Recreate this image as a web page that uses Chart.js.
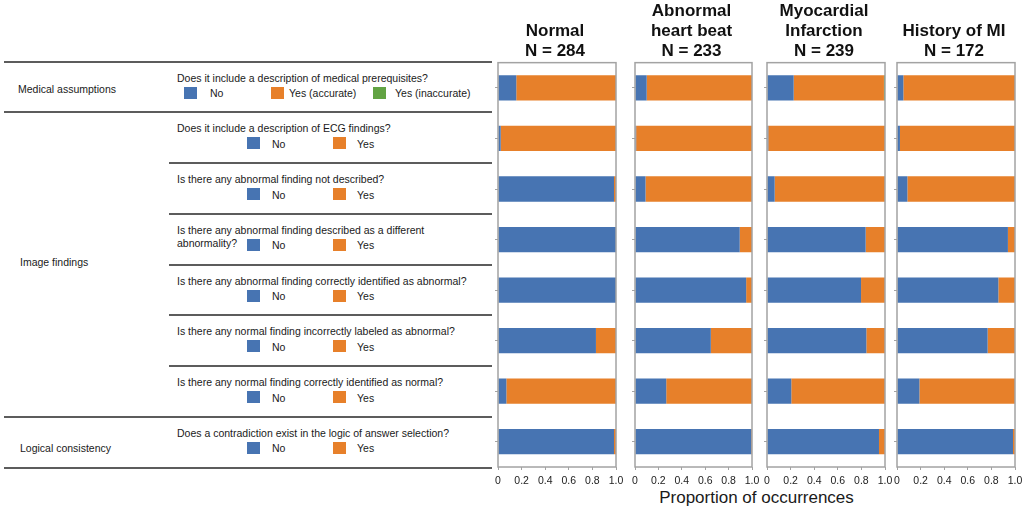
<!DOCTYPE html>
<html>
<head>
<meta charset="utf-8">
<script src="https://cdn.jsdelivr.net/npm/chart.js@4.4.1/dist/chart.umd.min.js"></script>
<style>
  html, body { margin: 0; padding: 0; background: #fff; }
  body {
    width: 1022px; height: 513px; position: relative; overflow: hidden;
    font-family: "Liberation Sans", Arial, sans-serif; color: #1a1a1a;
  }
  .txt { position: absolute; white-space: pre; font-size: 10.5px; line-height: 13px; }
  .rule { position: absolute; height: 0; border-top: 2px solid #5c5c5c; }
  .sw { position: absolute; width: 13px; height: 12px; }
  canvas { position: absolute; top: 0; }
  #xtitle { position: absolute; left: 498px; width: 517px; top: 488px; text-align: center; font-size: 17px; line-height: 20px; }
</style>
</head>
<body>
<div id="table"></div>
<div id="xtitle">Proportion of occurrences</div>
<script>
// questions, top to bottom
const questions = [
    'Does it include a description of medical prerequisites?',
    'Does it include a description of ECG findings?',
    'Is there any abnormal finding not described?',
    'Is there any abnormal finding described as a different\nabnormality?',
    'Is there any abnormal finding correctly identified as abnormal?',
    'Is there any normal finding incorrectly labeled as abnormal?',
    'Is there any normal finding correctly identified as normal?',
    'Does a contradiction exist in the logic of answer selection?'
];
const groups = ['Medical assumptions', 'Image findings', 'Logical consistency'];
const firstLegend = ['No', 'Yes (accurate)', 'Yes (inaccurate)'];
const otherLegend = ['No', 'Yes'];

const panelTitles = [
    ['', 'Normal', 'N = 284'],
    ['Abnormal', 'heart beat', 'N = 233'],
    ['Myocardial', 'Infarction', 'N = 239'],
    ['', 'History of MI', 'N = 172']
];

const normalNo    = [0.155, 0.023, 0.983, 1.000, 1.000, 0.830, 0.071, 0.983];
const normalYes   = [0.845, 0.977, 0.017, 0.000, 0.000, 0.170, 0.929, 0.017];
const normalInacc = [0, 0, 0, 0, 0, 0, 0, 0];

const abnormalNo    = [0.100, 0.010, 0.090, 0.895, 0.950, 0.648, 0.267, 0.994];
const abnormalYes   = [0.900, 0.990, 0.910, 0.105, 0.050, 0.352, 0.733, 0.006];
const abnormalInacc = [0, 0, 0, 0, 0, 0, 0, 0];

const miNo    = [0.226, 0.011, 0.065, 0.836, 0.797, 0.842, 0.206, 0.949];
const miYes   = [0.765, 0.989, 0.935, 0.164, 0.203, 0.158, 0.794, 0.051];
const miInacc = [0.009, 0, 0, 0, 0, 0, 0, 0];

const historyNo    = [0.054, 0.025, 0.088, 0.940, 0.859, 0.768, 0.190, 0.983];
const historyYes   = [0.946, 0.975, 0.912, 0.060, 0.141, 0.232, 0.810, 0.017];
const historyInacc = [0, 0, 0, 0, 0, 0, 0, 0];

const xTickLabels = ['0', '0.2', '0.4', '0.6', '0.8', '1.0'];

const BLUE = '#4774b2';
const ORANGE = '#e7802a';
const GREEN = '#62a343';
const FONT = '"Liberation Sans", Arial, sans-serif';

// ---- left side table ----
const table = document.getElementById('table');
function add(cls, css, text) {
    const d = document.createElement('div');
    d.className = cls;
    Object.assign(d.style, css);
    if (text !== undefined) d.textContent = text;
    table.appendChild(d);
    return d;
}

const rowTop = i => 61.5 + i * 50.75;
for (let i = 0; i <= questions.length; i++) {
    const full = (i === 0 || i === 1 || i === 7 || i === 8);
    const x0 = full ? 4 : 169;
    add('rule', { left: x0 + 'px', width: (492 - x0) + 'px', top: (rowTop(i) - 1) + 'px' });
}

questions.forEach((q, i) => {
    const t = rowTop(i);
    add('txt', { left: '177px', top: (t + 10) + 'px' }, q);
    const names = i === 0 ? firstLegend : otherLegend;
    const sx = i === 0 ? [184, 271, 373] : [247, 333];
    const tx = i === 0 ? [210, 289, 395] : [272, 357];
    const cols = [BLUE, ORANGE, GREEN];
    names.forEach((n, k) => {
        add('sw', { left: sx[k] + 'px', top: (t + 25) + 'px', background: cols[k] });
        add('txt', { left: tx[k] + 'px', top: (t + 25.5) + 'px' }, n);
    });
});

add('txt', { left: '18px', top: '83px' }, groups[0]);
add('txt', { left: '20px', top: '256px' }, groups[1]);
add('txt', { left: '20px', top: '442px' }, groups[2]);

// ---- charts ----
const framePlugin = {
    id: 'frame',
    afterDatasetsDraw(chart) {
        const a = chart.chartArea;
        const c = chart.ctx;
        c.save();
        c.strokeStyle = '#a3a3a3';
        c.lineWidth = 1.5;
        c.strokeRect(a.left, a.top, a.right - a.left, a.bottom - a.top);
        c.restore();
    }
};

const panels = [
    { no: normalNo, yes: normalYes, inacc: normalInacc, left: 498, right: 616 },
    { no: abnormalNo, yes: abnormalYes, inacc: abnormalInacc, left: 635, right: 752 },
    { no: miNo, yes: miYes, inacc: miInacc, left: 767, right: 885 },
    { no: historyNo, yes: historyYes, inacc: historyInacc, left: 897, right: 1015 }
];

panels.forEach((p, i) => {
    const cv = document.createElement('canvas');
    const w = p.right - p.left + 28;
    cv.width = w;
    cv.height = 513;
    cv.style.left = (p.left - 14) + 'px';
    cv.style.width = w + 'px';
    cv.style.height = '513px';
    document.body.appendChild(cv);

    new Chart(cv.getContext('2d'), {
        type: 'bar',
        data: {
            labels: questions,
            datasets: [
                { label: 'No', data: p.no, backgroundColor: BLUE },
                { label: 'Yes', data: p.yes, backgroundColor: ORANGE },
                { label: 'Yes (inaccurate)', data: p.inacc, backgroundColor: GREEN }
            ]
        },
        options: {
            indexAxis: 'y',
            responsive: false,
            animation: false,
            devicePixelRatio: 1,
            barPercentage: 0.5,
            categoryPercentage: 1.0,
            layout: { padding: { left: 10, right: 14, top: 0, bottom: 26 } },
            scales: {
                x: {
                    stacked: true,
                    min: 0,
                    max: 1,
                    ticks: {
                        stepSize: 0.2,
                        color: '#222',
                        padding: 5,
                        maxRotation: 0,
                        autoSkip: false,
                        font: { family: FONT, size: 10.5 },
                        callback: (v, idx) => xTickLabels[idx]
                    },
                    grid: { display: true, drawOnChartArea: false, tickLength: 3, color: '#a3a3a3' },
                    border: { display: false },
                    afterFit: s => { s.height = 20; }
                },
                y: {
                    stacked: true,
                    ticks: { display: false },
                    grid: { display: true, drawOnChartArea: false, offset: false, tickLength: 3, color: '#a3a3a3' },
                    border: { display: false },
                    afterFit: s => { s.width = 4; }
                }
            },
            plugins: {
                legend: { display: false },
                tooltip: { enabled: false },
                title: {
                    display: true,
                    text: panelTitles[i],
                    color: '#111',
                    font: { family: FONT, size: 17, weight: 'bold', lineHeight: 1.15 },
                    padding: { top: 2, bottom: 2 }
                }
            }
        },
        plugins: [framePlugin]
    });
});
</script>
</body>
</html>
